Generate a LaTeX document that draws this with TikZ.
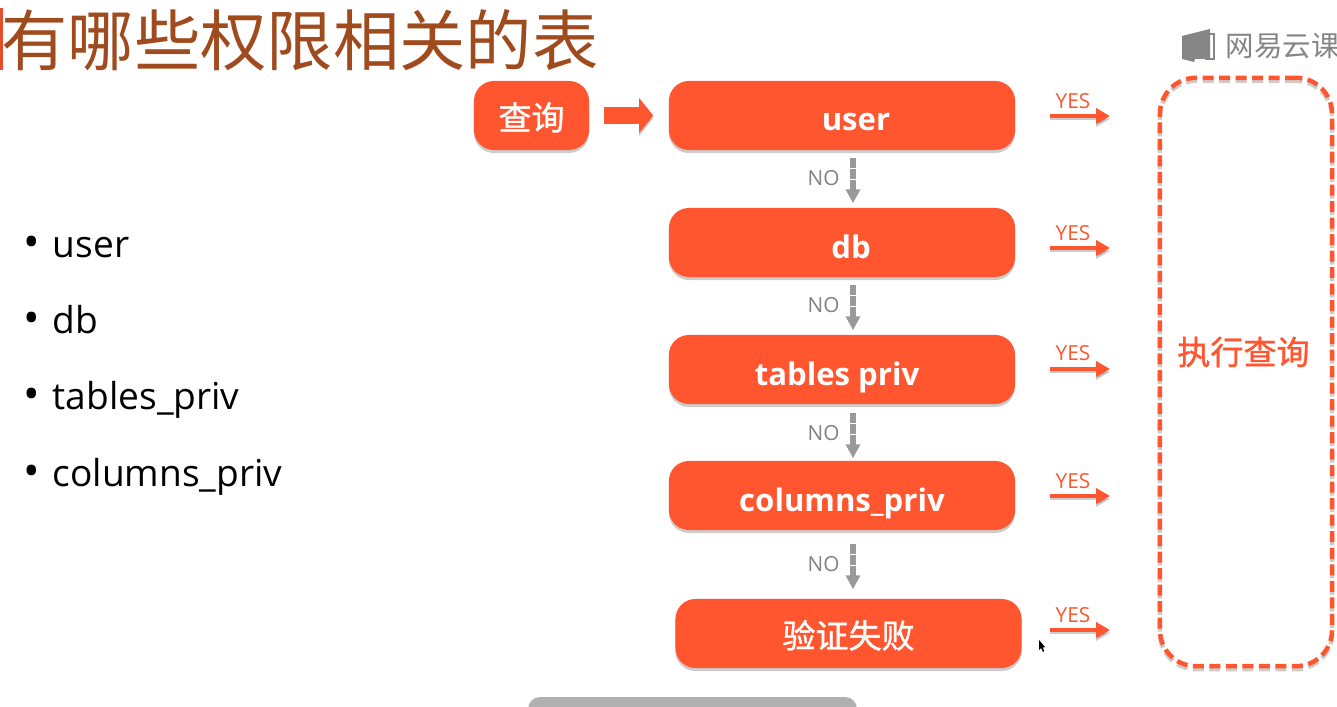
\documentclass[tikz,border=0pt]{standalone}
\usepackage{fontspec}
\setmainfont{Open Sans}
\newfontfamily\cjk{Noto Sans CJK SC}
\newfontfamily\cjkmed[FakeBold=1.0]{Noto Sans CJK SC}
\usepackage{tikz}
\usetikzlibrary{arrows.meta,shadows,positioning}
\tikzset{>=latex}
\definecolor{flame}{HTML}{FF5630}
\definecolor{rust}{HTML}{A04B1E}
\definecolor{logogray}{HTML}{858585}
\definecolor{nogray}{HTML}{999999}
\tikzset{
	softshadow/.style={drop shadow={shadow xshift=0cm,shadow yshift=-0.03cm,opacity=0.2,fill=black}},
	lineshadow/.style={preaction={draw=black,opacity=0.2,transform canvas={yshift=-0.03cm}}},
	tablebox/.style={fill=flame,text=white,rounded corners=0.2cm,minimum width=3.46cm,minimum height=0.69cm,inner sep=0pt,text height=0.31cm,text depth=0pt,softshadow,font=\fontsize{8.85pt}{11pt}\selectfont\bfseries},
	cjkbox/.style={tablebox,text height=0.29cm,font=\fontsize{9.4pt}{11pt}\selectfont\cjkmed},
	listitem/.style={anchor=base west,inner sep=0pt,font=\fontsize{10.55pt}{12pt}\selectfont},
	yesarrow/.style={draw=flame,line width=0.045cm,-{Triangle[length=0.14cm,width=0.15cm]},lineshadow},
	noarrow/.style={draw=nogray,line width=0.06cm,dash pattern=on 0.1cm off 0.01cm,-{Triangle[length=0.14cm,width=0.14cm,sep=0pt]}},
	yeslabel/.style={text=flame,inner sep=0pt,font=\fontsize{5.9pt}{7pt}\selectfont},
	nolabel/.style={text=nogray!85!black,inner sep=0pt,font=\fontsize{5.9pt}{7pt}\selectfont}
}
\begin{document}
\begin{tikzpicture}[x=0.01cm,y=-0.01cm]
	\useasboundingbox (0,0) rectangle (1337,707);
	\fill[white] (0,0) rectangle (1337,707);
	\node[text=rust,anchor=west,inner sep=0pt,font=\fontsize{18.85pt}{20pt}\selectfont\cjk] (title) at (1,40) {有哪些权限相关的表};
	\fill[flame!90!black] (0,8) rectangle (3,70);
	% logo
	\fill[logogray] (1182,36) -- (1210,29) -- (1210,59) -- (1195,59) -- (1194,62) -- (1182,59) -- cycle;
	\draw[logogray,line width=0.02cm] (1210,34) -- (1213.5,34) -- (1213.5,59) -- (1205,59);
	\node[text=logogray,anchor=west,inner sep=0pt,font=\fontsize{8.1pt}{10pt}\selectfont\cjk] (logo) at (1225,46) {网易云课};
	% left list
	\foreach \n/\y/\t in {1/258/user,2/334/db,3/410/tables\_priv,4/487/columns\_priv}
		\node[listitem] (item\n) at (23,\y) {\makebox[0.29cm][l]{\fontsize{12.5pt}{12pt}\selectfont•}\t};
	% boxes
	\node[cjkbox,minimum width=1.15cm] (query) at (531.5,115.5) {查询};
	\node[tablebox] (user) at (842,115.5) {\hspace*{0.28cm}user};
	\node[tablebox] (db) at (842,242.5) {\hspace*{0.18cm}db};
	\node[tablebox] (tables) at (842,369.5) {\hspace*{-0.1cm}tables priv};
	\node[tablebox] (columns) at (842,495.5) {columns\_priv};
	\node[cjkbox] (fail) at (848.5,633.5) {验证失败};
	\node[draw=flame,line width=0.045cm,dash pattern=on 0.11cm off 0.055cm,rounded corners=0.36cm,minimum width=1.72cm,minimum height=5.88cm,inner sep=0pt,lineshadow] (exec) at (1246,372) {};
	\node[text=flame,inner sep=0pt,font=\fontsize{9.4pt}{11pt}\selectfont\cjkmed] (exectext) at (1243.5,352) {执行查询};
	% arrows
	\draw[draw=flame,line width=0.17cm,-{Triangle[length=0.14cm,width=0.34cm,sep=0pt]},shorten <=0.14cm,shorten >=0.15cm,lineshadow] (query.east) -- (user.west);
	\coordinate (nox) at (853,0);
	\foreach \a/\b/\s/\e/\y in {user/db/7/4/178,db/tables/7/4/305,tables/columns/8/2/433,columns/fail/13/9/564}{
		\draw[noarrow,shorten <=\s*0.01cm,shorten >=\e*0.01cm] (\a.south -| nox) -- (\b.north -| nox);
		\node[nolabel] (no\a) at (823.5,\y) {NO};
	}
	\foreach \n/\y/\l/\s in {user/116/101/34,db/248/233/34,tables/369/353/34,columns/496/481/34,fail/630/615/28}{
		\coordinate (yes\n) at (1110,\y);
		\draw[yesarrow,shorten <=\s*0.01cm] (\n.east |- yes\n) -- (yes\n);
		\node[yeslabel] (yeslab\n) at (1073,\l) {YES};
	}
	% scroll bar and pointer
	\fill[black!31,rounded corners=0.12cm] (528,697) rectangle (857,730);
	\fill[black] (1039,640) -- (1039,650) -- (1041,648) -- (1043,652) -- (1044,651) -- (1043,647.5) -- (1045,647) -- cycle;
\end{tikzpicture}
\end{document}
